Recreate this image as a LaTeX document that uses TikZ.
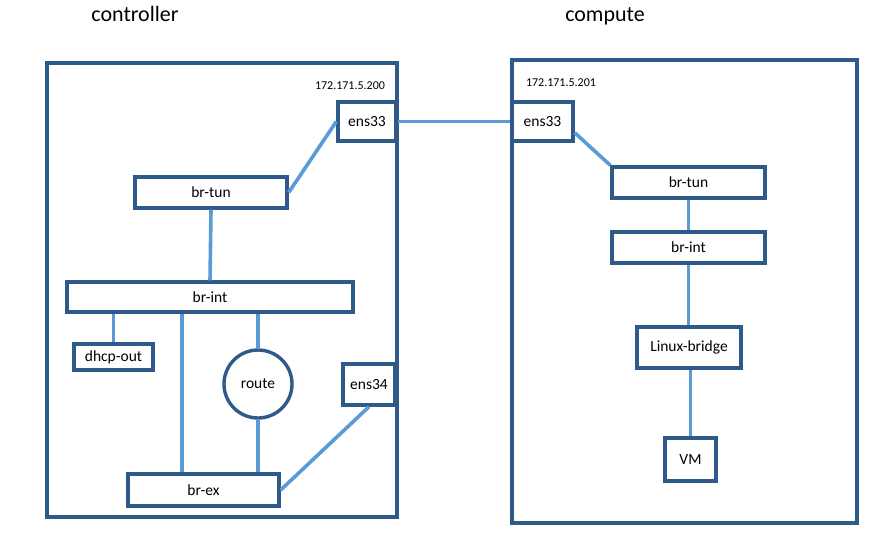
\documentclass[tikz,border=0pt]{standalone}
\usepackage{fontspec}
\setmainfont{Carlito}
\begin{document}
\begin{tikzpicture}[x=1pt,y=-1pt,
  box/.style={draw=boxc,line width=3.4pt,inner sep=0pt,font=\fontsize{15.5}{17}\selectfont},
  wire/.style={draw=wirec,line width=3.6pt},
  frame/.style={draw=boxc,line width=3.2pt}]
\definecolor{boxc}{HTML}{2E5A8A}
\definecolor{wirec}{HTML}{5B9BD5}
\useasboundingbox (0,0) rectangle (874,547);
\node[font=\fontsize{22}{24}\selectfont] (tc) at (135,14) {controller};
\node[font=\fontsize{22}{24}\selectfont] (tp) at (605,16) {compute};
\draw[frame] (47,63) rectangle (397,517);
\draw[frame] (512,60) rectangle (857,523);
\node[font=\fontsize{12}{14}\selectfont] (ipl) at (350,86) {172.171.5.200};
\node[font=\fontsize{12}{14}\selectfont] (ipr) at (561,83) {172.171.5.201};
% controller
\node[box,minimum width=58pt,minimum height=39pt] (e33l) at (367,121.5) {ens33};
\node[box,minimum width=152pt,minimum height=31pt] (tunl) at (211,192.5) {br-tun};
\node[box,minimum width=286pt,minimum height=30pt] (intl) at (210,297) {br-int};
\node[box,minimum width=79pt,minimum height=26pt] (dhcp) at (113.5,357) {dhcp-out};
\node[box,circle,minimum size=68pt] (route) at (258,384) {route};
\node[box,minimum width=52pt,minimum height=41pt] (e34) at (369,384.5) {ens34};
\node[box,minimum width=151pt,minimum height=32pt] (brex) at (203.5,490) {br-ex};
% compute
\node[box,minimum width=61pt,minimum height=39pt] (e33r) at (542.5,121.5) {ens33};
\node[box,minimum width=153pt,minimum height=31pt] (tunr) at (688.5,182.5) {br-tun};
\node[box,minimum width=153pt,minimum height=31pt] (intr) at (688.5,247.5) {br-int};
\node[box,minimum width=104pt,minimum height=41pt] (lb) at (689,347.5) {Linux-bridge};
\node[box,minimum width=51pt,minimum height=43pt] (vm) at (690.5,459.5) {VM};
% wires
\draw[wire] (e33l.east) -- (e33r.west);
\draw[wire] (e33l.west) -- (tunl.east);
\draw[wire] (tunl.south) -- (intl.north);
\draw[wire] (intl.south -| dhcp.north) -- (dhcp.north);
\draw[wire] (intl.south -| 182,0) -- (brex.north -| 182,0);
\draw[wire] (intl.south -| route.north) -- (route.north);
\draw[wire] (route.south) -- (brex.north -| route.south);
\draw[wire] (brex.east) -- (e34.south);
\draw[wire] (e33r.south east) ++(0,-10) -- (tunr.north west);
\draw[wire] (tunr.south) -- (intr.north);
\draw[wire] (intr.south) -- (lb.north -| intr.south);
\draw[wire] (lb.south -| vm.north) -- (vm.north);
\end{tikzpicture}
\end{document}
